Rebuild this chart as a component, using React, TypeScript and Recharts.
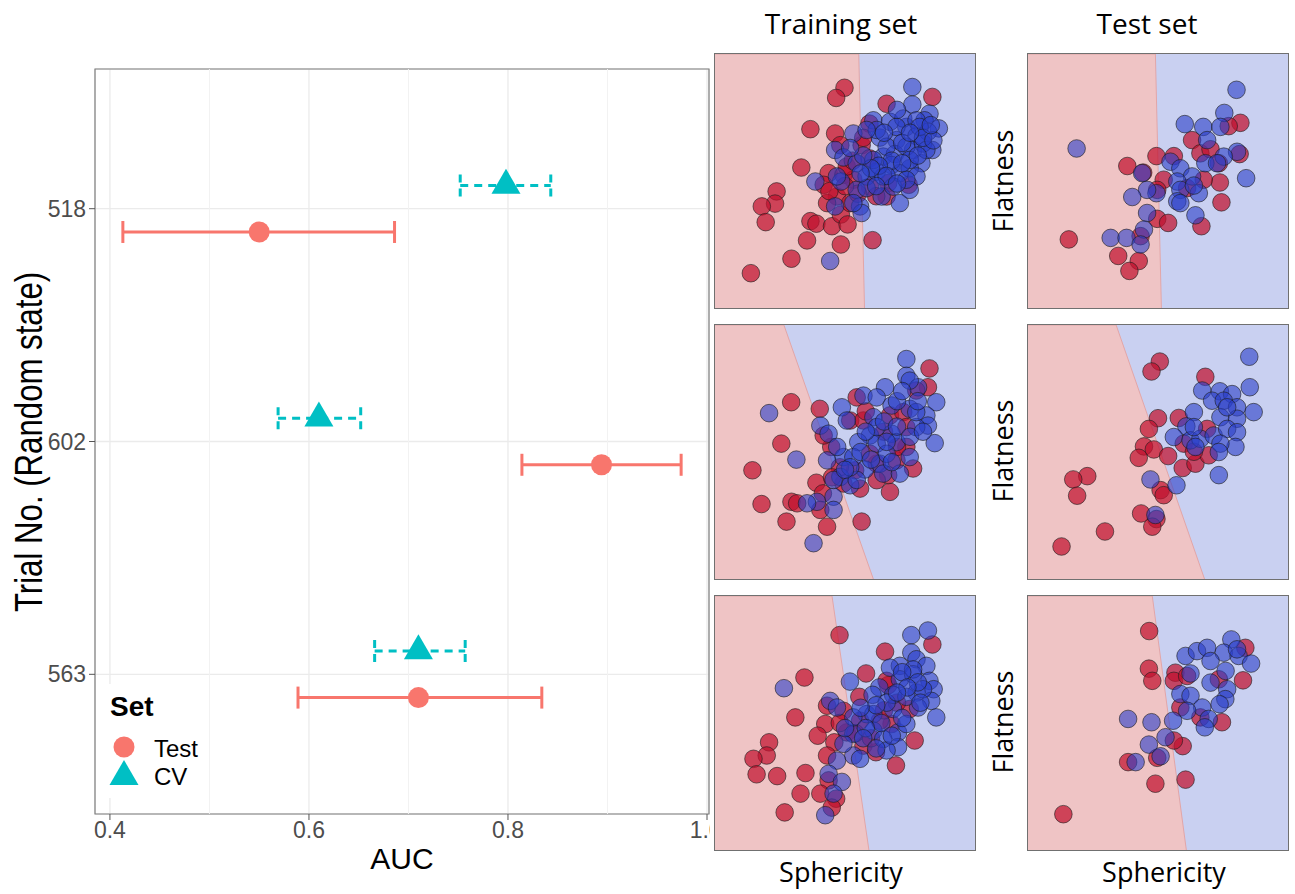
import {
  Area,
  CartesianGrid,
  ComposedChart,
  ErrorBar,
  ReferenceArea,
  ReferenceLine,
  Scatter,
  ScatterChart,
  XAxis,
  YAxis,
} from 'recharts'

// ---- left panel: AUC per trial (bottom to top, as plotted) ----
const trials = ['563', '602', '518']
const testAuc = [0.71, 0.894, 0.55]
const testLow = [0.589, 0.814, 0.413]
const testHigh = [0.834, 0.974, 0.686]
const cvAuc = [0.71, 0.61, 0.798]
const cvLow = [0.666, 0.569, 0.752]
const cvHigh = [0.757, 0.652, 0.843]

const aucTicks = [0.4, 0.6, 0.8, 1.0]
const aucMinor = [0.5, 0.7, 0.9]

// ---- right panels: Sphericity (x) vs Flatness (y), both on a 0-100 scale ----
type Pt = [number, number]

// decision boundary: x where it meets the top edge and the bottom edge
const cut518Train: Pt = [55.3, 57.5]
const cut518Test: Pt = [49.0, 51.3]
const cut602Train: Pt = [26.5, 60.9]
const cut602Test: Pt = [33.9, 67.9]
const cut563Train: Pt = [45.0, 59.2]
const cut563Test: Pt = [47.8, 60.9]

const train518Red: Pt[] = [[49.8,86.7],[46.6,82.7],[66.0,80.4],[83.6,83.1],[36.7,70.4],[46.2,68.7],[48.2,64.1],[56.4,64.1],[59.4,58.9],[59.4,72.6],[33.2,55.3],[43.7,53.1],[41.8,48.5],[49.4,52.4],[53.2,50.5],[23.7,45.9],[23.1,41.1],[18.0,40.0],[19.5,33.8],[36.7,34.2],[39.0,33.2],[45.0,32.2],[48.4,36.8],[51.0,32.9],[35.4,26.6],[48.4,25.0],[29.4,19.4],[13.8,13.7],[60.6,26.7],[66.6,49.2],[74.5,48.5],[66.0,43.9],[46.9,43.9],[43.1,41.3],[52.0,41.3],[50.7,55.7],[59.6,47.8],[55,45],[50,48],[44,46],[62,44],[53,58],[57,67]]
const train518Blue: Pt[] = [[75.9,87.0],[75.9,80.1],[82.5,76.5],[60.9,73.9],[67.3,73.3],[73.6,71.3],[80.6,73.9],[86.1,70.7],[53.2,68.7],[63.4,67.1],[69.8,66.1],[77.5,67.7],[81.9,69.4],[83.6,62.2],[46.2,62.2],[49.4,59.3],[54.5,57.0],[64.7,59.6],[69.2,60.6],[76.2,62.2],[79.4,57.0],[58.3,51.8],[62.2,53.7],[67.9,56.3],[71.1,53.1],[74.9,55.0],[77.5,51.8],[38.6,49.8],[48.5,49.8],[54.5,46.5],[58.3,47.2],[64.1,43.9],[71.1,41.3],[55.8,40.0],[46.2,40.0],[56.4,37.4],[44.3,18.5],[72.4,74.6],[77.5,73.9],[73.6,63.5],[66.0,63.5],[80.0,64.8],[64.7,51.8],[68.5,47.8],[74.9,46.5],[53.2,41.3],[81.3,62.2],[62.2,70.1],[58.3,70.1],[74.9,58.3],[60.9,58.3],[46.9,51.8],[69.8,71.3],[78.7,71.3],[73.6,50.5],[70,78],[65,69],[72,65],[78,60],[68,58],[63,56],[72,57],[66,52],[60,55],[56,53],[70,49],[62,48],[80,67],[84,66],[57,60],[52,63],[75,69],[83,72]]
const test518Red: Pt[] = [[15.7,27.0],[34.7,20.5],[42.6,18.5],[39.0,14.6],[43.3,28.3],[49.7,35.1],[53.9,33.5],[66.7,32.2],[74.4,41.6],[73.8,49.4],[67.6,50.5],[52.2,50.5],[49.7,46.5],[61.2,47.2],[38.2,55.9],[44.3,53.3],[49.4,59.8],[56.1,59.8],[63.1,66.1],[66.3,60.9],[70.2,62.5],[81.4,60.6],[81.7,72.9],[77.2,71.6],[73.4,57.0]]
const test518Blue: Pt[] = [[80.2,85.9],[18.7,62.8],[60.3,72.4],[67.4,71.3],[75.5,76.8],[74.0,71.3],[68.9,66.1],[80.4,61.5],[75.3,59.6],[83.9,51.1],[68.2,57.0],[54.8,57.6],[58.6,55.0],[63.1,51.8],[57.4,49.8],[58.6,46.5],[65.7,45.2],[49.4,45.2],[45.8,46.5],[40.1,43.7],[57.4,42.0],[58.6,41.3],[45.8,37.4],[64.4,36.5],[44.6,30.9],[31.8,27.6],[37.9,27.6],[43.3,25.0],[72.7,57.0],[63.8,48.2],[43.9,53.1]]

const train602Red: Pt[] = [[29.3,69.6],[40.3,67.0],[25.5,53.3],[14.4,42.8],[17.9,29.5],[29.4,30.4],[31.6,29.8],[27.5,22.6],[43.1,20.6],[56.4,22.6],[39.0,37.9],[41.5,33.7],[44.7,52.0],[82.5,82.9],[81.9,75.5],[77.4,74.2],[54.5,71.5],[52.0,62.4],[57.1,62.4],[67.3,64.4],[72.4,65.7],[73.6,59.8],[73.6,52.0],[76.2,43.5],[67.3,34.3],[66.6,40.9],[55.8,35.6],[53.9,42.8],[62.2,38.9],[69.8,46.7],[62.2,45.4],[49.4,37.6],[41.8,56.5],[40.5,27.2],[59.6,49.3],[65,58],[58,66],[70,52],[48,44],[45,40]]
const train602Blue: Pt[] = [[73.6,86.6],[73.6,80.0],[78.1,75.5],[85.1,69.6],[84.5,53.5],[20.8,65.3],[31.3,47.0],[37.9,14.1],[65.4,75.5],[57.1,72.2],[48.8,67.6],[62.2,71.5],[67.9,68.3],[74.9,67.0],[81.3,64.4],[81.9,60.4],[77.4,59.8],[40.5,60.4],[43.7,57.2],[59.6,56.5],[62.2,53.3],[55.1,53.9],[67.9,57.2],[69.8,53.9],[74.9,48.0],[49.4,48.0],[53.2,48.0],[43.1,46.7],[57.7,43.1],[63.4,45.4],[48.2,40.2],[52.0,36.9],[39.2,30.4],[45.6,32.4],[45.6,27.2],[64.7,41.5],[71.1,41.5],[35.4,29.8],[50.7,62.4],[60.9,63.7],[77.4,65.7],[62.2,59.8],[66.0,49.3],[45.6,39.0],[74.9,78.1],[54.5,39.0],[70,70],[65,62],[58,58],[70,60],[75,56],[66,54],[56,50],[60,47],[52,44],[68,46],[80,58],[78,70],[72,74],[47,52],[50,43]]
const test602Red: Pt[] = [[50.7,85.6],[47.5,81.7],[68.2,79.6],[50.0,63.3],[46.5,59.1],[58.0,63.4],[44.6,52.2],[48.4,51.0],[42.6,47.7],[53.9,48.4],[59.5,43.7],[64.4,45.4],[69.5,48.7],[59.9,53.3],[68.9,59.1],[22.8,40.5],[17.4,39.2],[18.9,32.8],[51.0,35.0],[52.2,33.0],[43.5,25.8],[49.4,23.6],[47.8,20.6],[29.6,18.7],[12.9,12.8],[63.8,50.1]]
const test602Blue: Pt[] = [[85.1,87.5],[85.3,75.5],[67.0,74.2],[73.8,73.9],[78.5,72.8],[70.8,70.2],[75.3,70.2],[80.4,67.6],[86.8,65.7],[63.8,65.7],[74.0,63.7],[80.4,63.1],[60.9,60.1],[56.1,55.9],[62.5,54.6],[66.3,55.2],[71.4,56.5],[76.6,59.1],[80.4,57.8],[79.8,52.0],[74.0,53.3],[73.4,50.0],[64.4,52.0],[73.4,40.9],[57.1,36.9],[47.1,39.2],[49.0,25.2],[63.8,59.8],[76.6,67.6]]

const train563Red: Pt[] = [[47.9,84.6],[65.4,78.1],[83.6,80.9],[34.4,67.9],[58.1,69.5],[66.6,64.9],[55.5,60.3],[30.9,52.2],[43.1,56.8],[49.4,54.8],[42.4,49.6],[39.5,45.0],[50.7,46.3],[45.9,42.4],[20.8,42.4],[19.9,37.2],[14.8,35.9],[16.0,29.8],[23.9,29.1],[34.8,30.3],[43.1,37.2],[43.7,27.4],[32.9,22.2],[40.5,22.2],[46.6,20.2],[44.9,16.7],[26.8,14.8],[57.1,41.1],[61.9,38.5],[69.6,33.3],[76.8,43.1],[67.9,49.6],[74.9,55.5],[63.4,50.9],[66.0,66.6],[55.8,50.9],[54,46],[60,44],[65,55],[70,58],[48,50]]
const train563Blue: Pt[] = [[75.5,84.6],[81.9,86.4],[75.5,77.7],[77.5,75.1],[71.1,72.5],[81.3,72.5],[26.5,63.7],[51.9,66.3],[63.2,64.0],[71.1,67.2],[76.2,69.2],[82.5,66.6],[84.1,63.3],[77.5,62.0],[83.2,58.7],[85.1,52.2],[78.1,56.1],[60.6,61.1],[44.3,58.7],[46.9,56.1],[58.3,53.5],[60.9,53.5],[68.5,55.5],[70.4,46.3],[60.9,47.0],[53.2,45.7],[64.7,43.7],[70.4,40.5],[53.2,37.2],[55.8,35.9],[46.9,35.2],[43.7,30.0],[48.8,26.8],[45.6,22.2],[42.4,13.7],[67.3,71.8],[76.2,71.1],[68.5,61.1],[73.6,60.3],[53.2,52.2],[73.6,49.6],[66.0,39.2],[49.4,41.8],[80.0,63.3],[72,70],[78,66],[74,64],[66,58],[62,57],[56,56],[64,50],[58,48],[68,45],[72,52],[79,58],[70,62],[50,48],[57,44],[62,40]]
const test563Red: Pt[] = [[46.6,86.2],[46.5,71.4],[47.8,66.6],[56.7,69.8],[56.1,66.6],[61.2,68.5],[82.7,66.8],[73.4,67.2],[58.6,56.1],[66.3,52.2],[74.6,50.3],[59.5,40.9],[56.1,43.1],[49.7,36.3],[38.5,34.6],[49.0,26.1],[60.6,27.7],[13.6,14.1],[83.6,79.6]]
const test563Blue: Pt[] = [[78.2,82.9],[60.6,76.4],[65.0,78.3],[68.9,79.6],[75.3,77.7],[81.0,76.4],[85.8,73.4],[70.2,74.4],[76.0,70.5],[62.5,69.5],[70.2,65.9],[76.6,63.3],[58.6,61.4],[62.5,60.7],[75.9,59.4],[73.7,57.4],[67.0,56.1],[61.2,54.8],[69.5,51.6],[68.0,48.3],[55.8,50.9],[38.5,51.6],[47.5,50.3],[52.9,44.4],[46.5,41.5],[51.0,36.9],[41.4,34.6],[80.4,79.0]]

const RED = '#F8766D'
const TEAL = '#00BFC4'
const PINK_BG = '#efc4c5'
const BLUE_BG = '#c9d0f1'
const PT_RED = '#c0102e'
const PT_BLUE = '#2a3ec8'

const testRows = trials.map((_, i) => ({
  auc: testAuc[i],
  pos: i + 1 - 0.1,
  err: [testAuc[i] - testLow[i], testHigh[i] - testAuc[i]],
}))
const cvRows = trials.map((_, i) => ({
  auc: cvAuc[i],
  pos: i + 1 + 0.1,
  err: [cvAuc[i] - cvLow[i], cvHigh[i] - cvAuc[i]],
}))

const circleShape = (p: any) => <circle cx={p.cx} cy={p.cy} r={10.5} fill={RED} />
const triShape = (p: any) => (
  <polygon
    points={`${p.cx},${p.cy - 16.7} ${p.cx - 14.5},${p.cy + 8.3} ${p.cx + 14.5},${p.cy + 8.3}`}
    fill={TEAL}
  />
)

function AucChart() {
  return (
    <div style={{ position: 'absolute', left: 0, top: 0, width: 710, height: 894, overflow: 'hidden' }}>
      <ScatterChart width={720} height={894} margin={{ top: 69, right: 11, bottom: 0, left: 0 }}>
        <CartesianGrid stroke="#ebebeb" strokeWidth={1.3} />
        {aucMinor.map((v) => (
          <ReferenceLine key={v} x={v} stroke="#f2f2f2" strokeWidth={1} />
        ))}
        <XAxis
          dataKey="auc"
          type="number"
          domain={[0.385, 1.002]}
          ticks={aucTicks}
          tickFormatter={(v) => v.toFixed(1)}
          tick={{ fontSize: 23, fill: '#4d4d4d' }}
          tickLine={{ stroke: '#555' }}
          tickSize={6}
          axisLine={false}
          height={80}
          allowDataOverflow
        />
        <YAxis
          dataKey="pos"
          type="number"
          domain={[0.4, 3.6]}
          ticks={[1, 2, 3]}
          tickFormatter={(v) => trials[v - 1]}
          tick={{ fontSize: 23, fill: '#4d4d4d' }}
          tickLine={{ stroke: '#555' }}
          tickSize={6}
          tickMargin={3}
          axisLine={false}
          width={95}
          allowDataOverflow
        />
        <ReferenceArea x1={0.385} x2={1.002} y1={0.4} y2={3.6} fill="none" stroke="#7f7f7f" strokeWidth={1.2} />
        <Scatter data={cvRows} shape={triShape} isAnimationActive={false}>
          <ErrorBar dataKey="err" direction="x" width={11} stroke={TEAL} strokeWidth={3} strokeDasharray="8 6" />
        </Scatter>
        <Scatter data={testRows} shape={circleShape} isAnimationActive={false}>
          <ErrorBar dataKey="err" direction="x" width={11} stroke={RED} strokeWidth={3} />
        </Scatter>
      </ScatterChart>
    </div>
  )
}

const PW = 262
const PH = 256

const dot = (fill: string, op: number) => (p: any) => (
  <circle cx={p.cx} cy={p.cy} r={8.8} fill={fill} fillOpacity={op} stroke="#1a1a1a" strokeOpacity={0.6} strokeWidth={1} />
)

const rows = (pts: Pt[]) => pts.map(([x, y]) => ({ sx: x, fy: y }))

function Panel({ left, top, cut, red, blue }: { left: number; top: number; cut: Pt; red: Pt[]; blue: Pt[] }) {
  const region = [
    { sx: 0, fy: 100 },
    { sx: cut[0], fy: 100 },
    { sx: cut[1], fy: 0 },
  ]
  return (
    <div
      style={{
        position: 'absolute',
        left,
        top,
        width: PW,
        height: PH,
        border: '1px solid #707070',
        boxSizing: 'border-box',
        background: BLUE_BG,
        overflow: 'hidden',
      }}
    >
      <ComposedChart width={PW - 2} height={PH - 2} data={region} margin={{ top: 0, right: 0, bottom: 0, left: 0 }}>
        <XAxis dataKey="sx" type="number" domain={[0, 100]} hide allowDataOverflow />
        <YAxis dataKey="fy" type="number" domain={[0, 100]} hide allowDataOverflow />
        <Area
          dataKey="fy"
          type="linear"
          fill={PINK_BG}
          fillOpacity={1}
          stroke="#e2a6a8"
          strokeWidth={1}
          dot={false}
          activeDot={false}
          isAnimationActive={false}
        />
        <Scatter data={rows(red)} dataKey="fy" shape={dot(PT_RED, 0.72)} isAnimationActive={false} />
        <Scatter data={rows(blue)} dataKey="fy" shape={dot(PT_BLUE, 0.6)} isAnimationActive={false} />
      </ComposedChart>
    </div>
  )
}

const colX = [714, 1027]
const rowY = [53, 324, 595]

export default function App() {
  const right = '"Open Sans", "Noto Sans", sans-serif'
  return (
    <div
      style={{
        position: 'absolute',
        left: 0,
        top: 0,
        width: 1295,
        height: 894,
        background: '#fff',
        fontFamily: '"Liberation Sans", Arial, sans-serif',
        overflow: 'hidden',
      }}
    >
      <AucChart />
      <Panel left={colX[0]} top={rowY[0]} cut={cut518Train} red={train518Red} blue={train518Blue} />
      <Panel left={colX[1]} top={rowY[0]} cut={cut518Test} red={test518Red} blue={test518Blue} />
      <Panel left={colX[0]} top={rowY[1]} cut={cut602Train} red={train602Red} blue={train602Blue} />
      <Panel left={colX[1]} top={rowY[1]} cut={cut602Test} red={test602Red} blue={test602Blue} />
      <Panel left={colX[0]} top={rowY[2]} cut={cut563Train} red={train563Red} blue={train563Blue} />
      <Panel left={colX[1]} top={rowY[2]} cut={cut563Test} red={test563Red} blue={test563Blue} />

      <svg width={1295} height={894} style={{ position: 'absolute', left: 0, top: 0, pointerEvents: 'none' }}>
        {/* axis titles of the AUC plot */}
        <text x={402} y={869} textAnchor="middle" fontSize={30} fill="#000">AUC</text>
        <text transform="translate(42,442) rotate(-90) scale(0.8,1)" textAnchor="middle" fontSize={39} fill="#000">
          Trial No. (Random state)
        </text>

        {/* legend */}
        <rect x={100} y={684} width={100} height={114} fill="#fff" />
        <text x={110} y={716} fontSize={28} fontWeight="bold" fill="#000">Set</text>
        <circle cx={124} cy={747} r={10.5} fill={RED} />
        <text x={154} y={757} fontSize={24} fill="#000">Test</text>
        <polygon points="124,760 109.5,785 138.5,785" fill={TEAL} />
        <text x={154} y={785} fontSize={24} fill="#000">CV</text>

        {/* right side labels */}
        <g fontFamily={right} fontSize={28} fill="#000">
          <text x={841} y={34} textAnchor="middle">Training set</text>
          <text x={1147} y={34} textAnchor="middle">Test set</text>
          <text x={841} y={882} textAnchor="middle" fontSize={27}>Sphericity</text>
          <text x={1164} y={882} textAnchor="middle" fontSize={27}>Sphericity</text>
          {[181, 451, 722].map((yc) => (
            <text key={yc} transform={`translate(1013,${yc}) rotate(-90)`} textAnchor="middle" fontSize={27}>
              Flatness
            </text>
          ))}
        </g>
      </svg>
    </div>
  )
}
